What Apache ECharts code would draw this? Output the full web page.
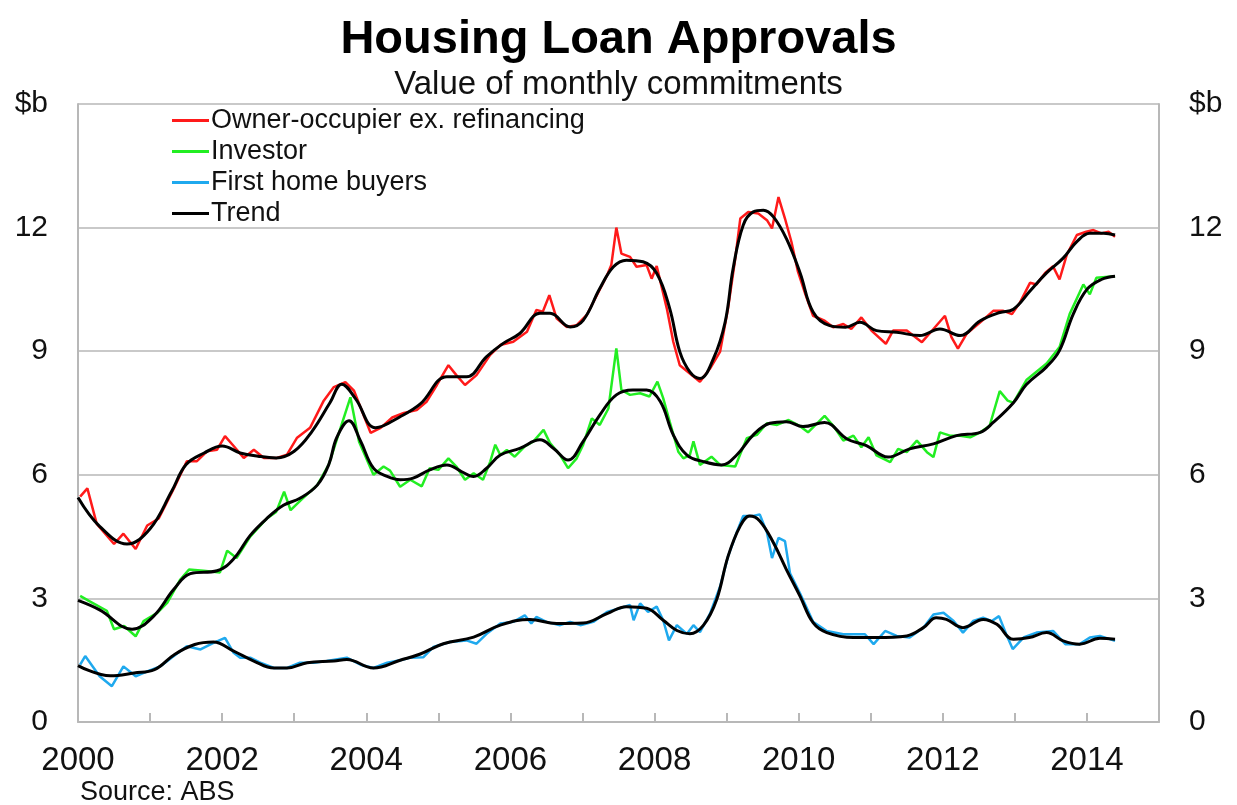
<!DOCTYPE html>
<html>
<head>
<meta charset="utf-8">
<title>Housing Loan Approvals</title>
<script src="https://cdn.jsdelivr.net/npm/echarts@6/dist/echarts.min.js"></script>
<style>
  html, body { margin: 0; padding: 0; background: #fff; }
  #chart { width: 1237px; height: 805px; }
</style>
</head>
<body>
<div id="chart"></div>
<script>
// values, [year, $b]
var ownerOcc = [[2000.03,5.47],[2000.13,5.67],[2000.26,4.81],[2000.5,4.32],[2000.63,4.57],[2000.8,4.2],[2000.96,4.77],[2001.12,4.94],[2001.33,5.67],[2001.51,6.33],[2001.65,6.33],[2001.79,6.57],[2001.93,6.61],[2002.04,6.94],[2002.16,6.7],[2002.3,6.41],[2002.44,6.61],[2002.58,6.41],[2002.76,6.41],[2002.9,6.49],[2003.04,6.9],[2003.22,7.14],[2003.41,7.8],[2003.55,8.13],[2003.71,8.25],[2003.83,8.04],[2003.94,7.55],[2004.06,7.02],[2004.2,7.14],[2004.36,7.39],[2004.52,7.5],[2004.7,7.57],[2004.84,7.78],[2004.98,8.18],[2005.14,8.66],[2005.25,8.42],[2005.37,8.18],[2005.53,8.42],[2005.72,8.91],[2005.86,9.15],[2006.04,9.23],[2006.23,9.47],[2006.36,10.0],[2006.45,9.96],[2006.54,10.36],[2006.64,9.8],[2006.78,9.59],[2006.92,9.63],[2007.06,9.88],[2007.2,10.36],[2007.34,10.84],[2007.4,11.09],[2007.47,12.0],[2007.54,11.37],[2007.66,11.29],[2007.75,11.05],[2007.89,11.09],[2007.96,10.76],[2008.03,11.07],[2008.17,10.04],[2008.26,9.23],[2008.35,8.66],[2008.49,8.46],[2008.63,8.26],[2008.77,8.58],[2008.91,8.99],[2009.02,10.04],[2009.12,11.25],[2009.19,12.22],[2009.3,12.38],[2009.44,12.34],[2009.56,12.18],[2009.63,11.98],[2009.72,12.74],[2009.81,12.22],[2009.9,11.65],[2009.99,10.93],[2010.09,10.4],[2010.2,9.86],[2010.36,9.74],[2010.48,9.58],[2010.62,9.66],[2010.73,9.54],[2010.87,9.82],[2011.01,9.5],[2011.21,9.18],[2011.31,9.5],[2011.5,9.5],[2011.71,9.22],[2011.87,9.54],[2012.03,9.86],[2012.12,9.34],[2012.21,9.06],[2012.33,9.42],[2012.52,9.7],[2012.7,9.98],[2012.84,9.98],[2012.96,9.9],[2013.07,10.18],[2013.21,10.66],[2013.3,10.62],[2013.42,10.9],[2013.53,11.06],[2013.62,10.74],[2013.72,11.34],[2013.86,11.82],[2013.99,11.9],[2014.09,11.94],[2014.2,11.86],[2014.3,11.9],[2014.39,11.78]];
var ownerTrend = [[2000,5.45],[2000.3,4.75],[2000.68,4.32],[2001,4.69],[2001.3,5.6],[2001.5,6.25],[2001.75,6.53],[2002,6.7],[2002.25,6.53],[2002.5,6.45],[2002.75,6.41],[2003,6.57],[2003.25,7.06],[2003.5,7.76],[2003.66,8.2],[2003.85,7.85],[2004.13,7.14],[2004.47,7.41],[2004.75,7.72],[2005.12,8.38],[2005.39,8.38],[2005.67,8.87],[2005.9,9.19],[2006.13,9.43],[2006.41,9.92],[2006.55,9.92],[2006.83,9.59],[2007.01,9.75],[2007.24,10.52],[2007.43,11.05],[2007.61,11.21],[2007.84,11.17],[2008.03,10.89],[2008.21,10.04],[2008.35,8.99],[2008.49,8.5],[2008.63,8.34],[2008.82,8.83],[2008.98,9.71],[2009.09,11.0],[2009.23,12.06],[2009.37,12.38],[2009.51,12.42],[2009.65,12.26],[2009.83,11.73],[2010.02,10.9],[2010.2,9.95],[2010.43,9.62],[2010.65,9.58],[2010.85,9.7],[2011.08,9.5],[2011.36,9.46],[2011.68,9.38],[2011.96,9.54],[2012.24,9.38],[2012.52,9.74],[2012.79,9.94],[2012.98,10.02],[2013.21,10.46],[2013.44,10.9],[2013.67,11.26],[2013.86,11.66],[2014.04,11.86],[2014.23,11.86],[2014.39,11.82]];

var investor = [[2000.03,3.06],[2000.15,2.94],[2000.4,2.7],[2000.5,2.25],[2000.64,2.33],[2000.8,2.08],[2000.91,2.45],[2001.1,2.65],[2001.24,2.9],[2001.42,3.46],[2001.54,3.7],[2001.74,3.67],[2001.97,3.63],[2002.07,4.16],[2002.2,3.98],[2002.39,4.5],[2002.62,4.94],[2002.75,5.1],[2002.86,5.59],[2002.95,5.14],[2003.1,5.4],[2003.32,5.75],[2003.48,6.25],[2003.6,6.9],[2003.66,7.23],[2003.78,7.88],[2003.9,6.8],[2004.1,6.0],[2004.24,6.2],[2004.33,6.1],[2004.47,5.71],[2004.61,5.88],[2004.77,5.72],[2004.88,6.16],[2005.0,6.12],[2005.14,6.4],[2005.25,6.2],[2005.37,5.88],[2005.49,6.04],[2005.62,5.88],[2005.72,6.32],[2005.79,6.73],[2005.86,6.48],[2005.95,6.6],[2006.06,6.44],[2006.2,6.69],[2006.32,6.81],[2006.46,7.09],[2006.55,6.77],[2006.69,6.48],[2006.8,6.16],[2006.92,6.4],[2007.01,6.73],[2007.13,7.37],[2007.24,7.21],[2007.36,7.61],[2007.47,9.07],[2007.54,8.06],[2007.66,7.94],[2007.8,7.98],[2007.93,7.9],[2008.04,8.26],[2008.12,7.86],[2008.21,7.29],[2008.33,6.56],[2008.4,6.4],[2008.49,6.48],[2008.54,6.81],[2008.63,6.24],[2008.79,6.44],[2008.91,6.24],[2009.12,6.2],[2009.28,6.89],[2009.42,6.97],[2009.56,7.25],[2009.7,7.21],[2009.86,7.33],[2010.0,7.2],[2010.13,7.03],[2010.36,7.43],[2010.48,7.19],[2010.62,6.83],[2010.76,6.95],[2010.87,6.67],[2010.97,6.91],[2011.08,6.47],[2011.27,6.31],[2011.38,6.63],[2011.5,6.55],[2011.64,6.83],[2011.78,6.55],[2011.87,6.43],[2011.96,7.03],[2012.1,6.95],[2012.24,6.95],[2012.38,6.91],[2012.52,7.03],[2012.65,7.19],[2012.79,8.03],[2012.9,7.8],[2012.98,7.75],[2013.16,8.3],[2013.44,8.7],[2013.62,9.1],[2013.76,9.9],[2013.95,10.62],[2014.04,10.38],[2014.13,10.78],[2014.39,10.82]];
var investorTrend = [[2000,2.95],[2000.3,2.72],[2000.75,2.25],[2001.05,2.57],[2001.33,3.22],[2001.56,3.6],[2001.93,3.67],[2002.16,3.96],[2002.39,4.53],[2002.62,4.94],[2002.85,5.26],[2003.08,5.43],[2003.32,5.75],[2003.48,6.25],[2003.59,6.9],[2003.76,7.31],[2003.92,6.82],[2004.1,6.16],[2004.29,5.96],[2004.47,5.88],[2004.65,5.92],[2004.88,6.12],[2005.12,6.24],[2005.32,6.08],[2005.49,5.96],[2005.67,6.16],[2005.86,6.48],[2006.13,6.64],[2006.41,6.85],[2006.6,6.64],[2006.8,6.36],[2007.01,6.81],[2007.24,7.45],[2007.47,7.94],[2007.7,8.06],[2007.89,8.06],[2008.08,7.78],[2008.26,6.97],[2008.45,6.48],[2008.68,6.32],[2008.93,6.24],[2009.14,6.48],[2009.37,6.97],[2009.6,7.25],[2009.83,7.29],[2010.06,7.17],[2010.36,7.27],[2010.67,6.87],[2010.94,6.71],[2011.24,6.43],[2011.54,6.63],[2011.87,6.75],[2012.19,6.95],[2012.52,7.03],[2012.7,7.27],[2012.98,7.75],[2013.16,8.19],[2013.44,8.62],[2013.62,9.02],[2013.81,9.9],[2014.0,10.5],[2014.2,10.74],[2014.39,10.82]];

var firstHome = [[2000.03,1.39],[2000.1,1.6],[2000.3,1.11],[2000.47,0.87],[2000.63,1.35],[2000.8,1.11],[2000.96,1.23],[2001.14,1.35],[2001.33,1.6],[2001.51,1.84],[2001.7,1.76],[2001.88,1.92],[2002.04,2.04],[2002.16,1.68],[2002.25,1.56],[2002.39,1.56],[2002.53,1.44],[2002.72,1.31],[2002.9,1.31],[2003.08,1.44],[2003.27,1.44],[2003.45,1.48],[2003.73,1.56],[2003.92,1.39],[2004.1,1.31],[2004.29,1.44],[2004.47,1.5],[2004.6,1.56],[2004.79,1.57],[2004.93,1.82],[2005.16,1.94],[2005.39,1.98],[2005.53,1.9],[2005.67,2.14],[2005.86,2.39],[2006.04,2.43],[2006.2,2.59],[2006.29,2.39],[2006.36,2.55],[2006.5,2.43],[2006.69,2.35],[2006.83,2.43],[2006.97,2.35],[2007.15,2.43],[2007.34,2.67],[2007.52,2.76],[2007.66,2.84],[2007.71,2.47],[2007.8,2.88],[2007.91,2.67],[2008.03,2.8],[2008.12,2.47],[2008.2,1.98],[2008.31,2.35],[2008.45,2.14],[2008.54,2.35],[2008.63,2.18],[2008.77,2.63],[2008.91,3.29],[2009.02,4.02],[2009.14,4.6],[2009.23,5.0],[2009.37,5.0],[2009.46,5.04],[2009.56,4.6],[2009.63,3.98],[2009.72,4.47],[2009.81,4.39],[2009.88,3.61],[2010.02,3.12],[2010.2,2.43],[2010.39,2.21],[2010.62,2.13],[2010.78,2.13],[2010.92,2.13],[2011.04,1.89],[2011.2,2.21],[2011.36,2.09],[2011.54,2.05],[2011.73,2.29],[2011.87,2.61],[2012.01,2.65],[2012.15,2.45],[2012.28,2.17],[2012.42,2.45],[2012.56,2.53],[2012.68,2.45],[2012.78,2.57],[2012.88,2.13],[2012.97,1.77],[2013.12,2.05],[2013.3,2.17],[2013.53,2.21],[2013.7,1.89],[2013.9,1.89],[2014.04,2.05],[2014.18,2.09],[2014.39,1.97]];
var firstHomeTrend = [[2000,1.37],[2000.45,1.12],[2000.78,1.19],[2001.06,1.27],[2001.34,1.64],[2001.62,1.88],[2001.88,1.94],[2002.16,1.72],[2002.44,1.48],[2002.72,1.31],[2002.9,1.31],[2003.18,1.44],[2003.55,1.48],[2003.73,1.52],[2004.1,1.31],[2004.47,1.5],[2004.75,1.65],[2005.07,1.9],[2005.49,2.06],[2005.86,2.35],[2006.27,2.49],[2006.64,2.39],[2007.01,2.4],[2007.34,2.63],[2007.61,2.8],[2007.89,2.76],[2008.12,2.47],[2008.31,2.22],[2008.49,2.14],[2008.68,2.35],[2008.86,2.96],[2009.02,4.02],[2009.19,4.76],[2009.32,5.0],[2009.46,4.88],[2009.65,4.35],[2009.83,3.7],[2010.02,3.05],[2010.2,2.41],[2010.39,2.17],[2010.76,2.05],[2011.08,2.05],[2011.5,2.09],[2011.73,2.29],[2011.91,2.53],[2012.05,2.49],[2012.28,2.29],[2012.56,2.49],[2012.75,2.37],[2012.98,2.01],[2013.2,2.05],[2013.44,2.17],[2013.67,1.97],[2013.9,1.89],[2014.18,2.03],[2014.39,2.01]];

var legendNames = ['Owner-occupier ex. refinancing', 'Investor', 'First home buyers', 'Trend'];
var yTicks = { min: 0, max: 15, step: 3, topLabel: '$b' };
var xYears = { min: 2000, max: 2015 };

var font = 'Arial, "Liberation Sans", sans-serif';
var gridCol = '#c9c9c9';
var frameCol = '#b8b8b8';

function rawLine(name, data, color) {
  return {
    name: name, type: 'line', data: data, symbol: 'none',
    lineStyle: { color: color, width: 2.5 }, itemStyle: { color: color },
    z: 2
  };
}
function trendLine(data) {
  return {
    name: 'Trend', type: 'line', data: data, symbol: 'none', smooth: 0.4,
    lineStyle: { color: '#000', width: 3 }, itemStyle: { color: '#000' },
    z: 3
  };
}
function yLabel(v) { return v === yTicks.max ? yTicks.topLabel : String(v); }

var chart = echarts.init(document.getElementById('chart'), null, { renderer: 'canvas' });
chart.setOption({
  animation: false,
  backgroundColor: '#fff',
  textStyle: { fontFamily: font },
  title: [
    { text: 'Housing Loan Approvals', left: 'center', top: 12,
      textStyle: { fontFamily: font, fontSize: 47, fontWeight: 'bold', color: '#000' } },
    { text: 'Value of monthly commitments', left: 'center', top: 63,
      textStyle: { fontFamily: font, fontSize: 33, fontWeight: 'normal', color: '#111' } }
  ],
  legend: {
    data: legendNames,
    orient: 'vertical',
    left: 167, top: 102,
    icon: 'rect',
    itemWidth: 37, itemHeight: 3, itemGap: 4,
    textStyle: { fontFamily: font, fontSize: 27, color: '#111', padding: [0, 0, 0, -3] }
  },
  grid: { left: 78, right: 78, top: 104, bottom: 83 },
  xAxis: {
    type: 'value', min: xYears.min, max: xYears.max, interval: 1,
    axisLine: { lineStyle: { color: frameCol, width: 2 } },
    axisTick: { inside: true, length: 9, lineStyle: { color: frameCol, width: 2 } },
    axisLabel: {
      fontFamily: font, fontSize: 33, color: '#111', margin: 22,
      showMinLabel: true, showMaxLabel: true,
      formatter: function (v) { return v % 2 === 0 ? String(v) : ''; }
    },
    splitLine: { show: false }
  },
  yAxis: [
    {
      type: 'value', position: 'left', min: yTicks.min, max: yTicks.max, interval: yTicks.step,
      axisLine: { show: true, lineStyle: { color: frameCol, width: 2 } },
      axisTick: { show: false },
      axisLabel: { fontFamily: font, fontSize: 30, color: '#111', margin: 30,
        showMinLabel: true, showMaxLabel: true, formatter: yLabel },
      splitLine: { show: true, lineStyle: { color: gridCol, width: 2 } }
    },
    {
      type: 'value', position: 'right', min: yTicks.min, max: yTicks.max, interval: yTicks.step,
      axisLine: { show: true, lineStyle: { color: frameCol, width: 2 } },
      axisTick: { show: false },
      axisLabel: { fontFamily: font, fontSize: 30, color: '#111', margin: 30,
        showMinLabel: true, showMaxLabel: true, formatter: yLabel },
      splitLine: { show: false }
    }
  ],
  series: [
    rawLine(legendNames[0], ownerOcc, '#ff1a1a'),
    rawLine(legendNames[1], investor, '#22ee22'),
    rawLine(legendNames[2], firstHome, '#1fa9ee'),
    trendLine(ownerTrend),
    trendLine(investorTrend),
    trendLine(firstHomeTrend)
  ],
  graphic: [
    { type: 'text', left: 80, top: 779,
      style: { text: 'Source: ABS', fontFamily: font, fontSize: 27, fill: '#111' } }
  ]
});
window.addEventListener('resize', function () { chart.resize(); });
</script>
</body>
</html>
